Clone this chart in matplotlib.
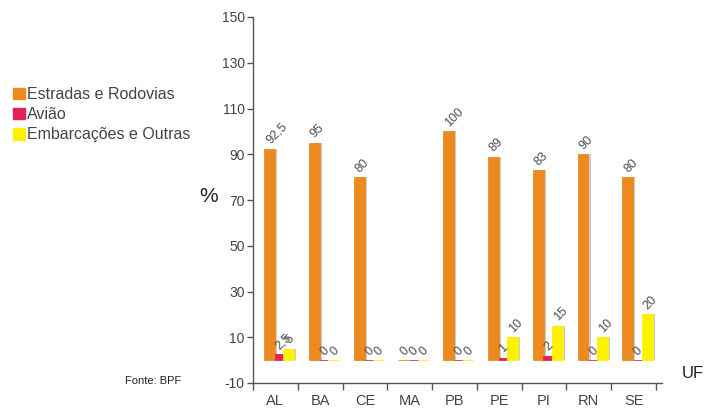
import matplotlib
matplotlib.use("Agg")
import matplotlib.pyplot as plt
import numpy as np
from matplotlib.patches import Patch

plt.rcParams['font.family'] = ['Liberation Sans', 'DejaVu Sans']
plt.rcParams['axes.unicode_minus'] = False

ufs = ["AL", "BA", "CE", "MA", "PB", "PE", "PI", "RN", "SE"]
estradas = [92.5, 95, 80, 0, 100, 89, 83, 90, 80]
aviao = [2.5, 0, 0, 0, 0, 1, 2, 0, 0]
embarcacoes = [5, 0, 0, 0, 0, 10, 15, 10, 20]
series_names = ["Estradas e Rodovias", "Avião", "Embarcações e Outras"]
colors = ["#EC8A1F", "#E0245A", "#FFF200"]

fig = plt.figure(figsize=(7.08, 4.08), dpi=100)
ax = fig.add_axes([253/708, 1 - 383/408, (662 - 253)/708, (383 - 17)/408])

x = np.arange(len(ufs))
data = [estradas, aviao, embarcacoes]
offsets = [-0.13, 0.085, 0.30]
widths = [0.245, 0.20, 0.245]

def fmt(v):
    return f"{v:g}".replace(".", ",")

for vals, off, bw, col in zip(data, offsets, widths, colors):
    xs = x + off
    # soft grey shadow on the right side of each bar
    ax.bar(xs + 0.045, vals, width=bw, color="#9a9a9a", alpha=0.5,
           linewidth=0, zorder=2)
    ax.bar(xs, vals, width=bw, color=col, edgecolor=col,
           linewidth=0.6, zorder=3)
    for xi, v in zip(xs, vals):
        ax.text(xi + 0.01, v + 2, fmt(v), rotation=45,
                rotation_mode="anchor", ha="left", va="baseline",
                fontsize=9, color="#505050", zorder=4)

slot = (656 - 253) / 9
ax.set_xlim(-0.5, -0.5 + (662 - 253) / slot)
ax.set_ylim(-10, 150)
ax.set_yticks(np.arange(-10, 151, 20))
ax.set_xticks(x)
ax.set_xticklabels(ufs)
ax.set_xticks(np.arange(-0.5, len(ufs), 1), minor=True)
ax.tick_params(axis="x", which="major", length=0, pad=8, labelsize=10.5,
               labelcolor="#444444")
ax.tick_params(axis="x", which="minor", length=5, width=1, color="#555555",
               direction="out")
ax.tick_params(axis="y", length=4, width=1, color="#555555", direction="out",
               labelsize=10, labelcolor="#444444", pad=2)

for s in ["top", "right"]:
    ax.spines[s].set_visible(False)
for s in ["left", "bottom"]:
    ax.spines[s].set_color("#555555")
    ax.spines[s].set_linewidth(1)

fig.text(209/708, 1 - 196/408, "%", fontsize=15, color="#222222",
         ha="center", va="center")
fig.text(693/708, 1 - 373/408, "UF", fontsize=12, color="#222222",
         ha="center", va="center")
fig.text(125/708, 1 - 381/408, "Fonte: BPF", fontsize=8, color="#222222",
         ha="left", va="center")

handles = [Patch(facecolor=c, edgecolor=c) for c in colors]
fig.legend(handles, series_names, loc="upper left",
           bbox_to_anchor=(13/708, 1 - 87/408), frameon=False,
           fontsize=11.5, handlelength=0.75, handleheight=0.75,
           handletextpad=0.15, labelspacing=0.32, borderaxespad=0,
           borderpad=0, labelcolor="#444444")

fig.savefig("out.png", dpi=100)
